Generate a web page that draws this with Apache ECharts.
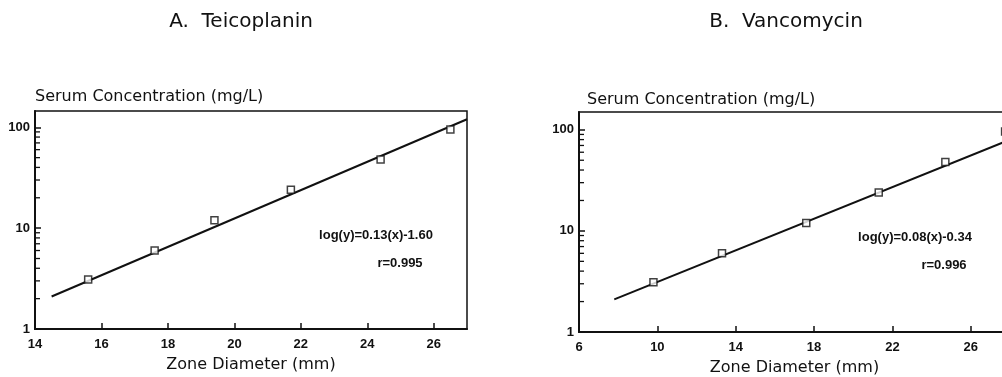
<!DOCTYPE html>
<html>
<head>
<meta charset="utf-8">
<script src="https://cdn.jsdelivr.net/npm/echarts@6/dist/echarts.min.js"></script>
<style>
  html, body { margin: 0; padding: 0; background: #fff; }
  #chart { width: 1002px; height: 377px; }
</style>
</head>
<body>
<div id="chart"></div>
<script>
// A. Teicoplanin
const teicoX = [15.6, 17.6, 19.4, 21.7, 24.4, 26.5];
const teicoY = [3.1, 6.0, 12, 24, 48, 95];
const teicoFitX = [14.5, 27.0];
const teicoFitY = [2.1, 120];

// B. Vancomycin
const vancoX = [9.8, 13.3, 17.6, 21.3, 24.7, 27.75];
const vancoY = [3.1, 6.0, 12, 24, 48, 96];
const vancoFitX = [7.8, 28.0];
const vancoFitY = [2.1, 80];

const minorTicks = [2, 3, 4, 5, 6, 7, 8, 9, 20, 30, 40, 50, 60, 70, 80, 90];

const FONT = 'Liberation Sans';
const WIDE = 'DejaVu Sans';

const chart = echarts.init(document.getElementById('chart'));

const pair = (xs, ys) => xs.map((x, i) => [x, ys[i]]);

function xAxisFor(idx, min, max, interval) {
    return {
        type: 'value', gridIndex: idx, min, max, interval,
        name: 'Zone Diameter (mm)', nameLocation: 'middle', nameGap: 28,
        nameTextStyle: { fontFamily: WIDE, fontSize: 16, color: '#111' },
        axisLine: { lineStyle: { color: '#111', width: 2 } },
        axisTick: { inside: true, length: 6, lineStyle: { color: '#111', width: 1.5 } },
        axisLabel: { showMaxLabel: false, margin: 9, fontFamily: FONT, fontWeight: 'bold', fontSize: 13, color: '#111' },
        splitLine: { show: false }
    };
}

function yAxisFor(idx, max, padLeft, gap) {
    return {
        type: 'log', gridIndex: idx, min: 1, max, logBase: 10,
        name: 'Serum Concentration (mg/L)', nameLocation: 'end', nameGap: gap,
        nameTextStyle: { fontFamily: WIDE, fontSize: 16, color: '#111', align: 'left', padding: [0, 0, 0, padLeft] },
        axisLine: { lineStyle: { color: '#111', width: 2 } },
        axisTick: { inside: true, length: 6, lineStyle: { color: '#111', width: 1.5 } },
        axisLabel: { showMaxLabel: false, margin: 5, fontFamily: FONT, fontWeight: 'bold', fontSize: 13, color: '#111' },
        splitLine: { show: false }
    };
}

// short inside ticks at 2..9 of each decade
function minorTickSeries(idx, xMin) {
    return {
        type: 'custom', xAxisIndex: idx, yAxisIndex: idx, silent: true,
        data: minorTicks.map(v => [xMin, v]),
        renderItem: (params, api) => {
            const p = api.coord([api.value(0), api.value(1)]);
            return {
                type: 'line',
                shape: { x1: p[0], y1: p[1], x2: p[0] + 5, y2: p[1] },
                style: { stroke: '#111', lineWidth: 1.3 }
            };
        }
    };
}

function pointSeries(idx, data) {
    return {
        type: 'scatter', xAxisIndex: idx, yAxisIndex: idx, data,
        symbol: 'rect', symbolSize: 7,
        itemStyle: { color: '#fff', borderColor: '#111', borderWidth: 1.5 },
        z: 5
    };
}

function fitSeries(idx, data) {
    return {
        type: 'line', xAxisIndex: idx, yAxisIndex: idx, data,
        showSymbol: false, lineStyle: { color: '#111', width: 2 }, z: 3
    };
}

function label(text, x, y, size, weight, family) {
    return {
        type: 'text', x, y,
        style: { text, fontFamily: family, fontSize: size, fontWeight: weight, fill: '#111', align: 'center', verticalAlign: 'middle' }
    };
}

const option = {
    animation: false,
    backgroundColor: '#fff',
    grid: [
        { left: 35, top: 111, width: 432, height: 218, show: true, borderColor: '#111', borderWidth: 1.5, outerBoundsMode: 'none' },
        { left: 579, top: 112, width: 431, height: 220, show: true, borderColor: '#111', borderWidth: 1.5, outerBoundsMode: 'none' }
    ],
    xAxis: [xAxisFor(0, 14, 27, 2), xAxisFor(1, 6, 28, 4)],
    yAxis: [yAxisFor(0, 145, 0, 6), yAxisFor(1, 150, 8, 4)],
    series: [
        fitSeries(0, pair(teicoFitX, teicoFitY)),
        pointSeries(0, pair(teicoX, teicoY)),
        minorTickSeries(0, 14),
        fitSeries(1, pair(vancoFitX, vancoFitY)),
        pointSeries(1, pair(vancoX, vancoY)),
        minorTickSeries(1, 6)
    ],
    graphic: [
        label('A.  Teicoplanin', 241, 22, 20, 'normal', WIDE),
        label('B.  Vancomycin', 786, 22, 20, 'normal', WIDE),
        label('log(y)=0.13(x)-1.60', 376, 235, 13, 'bold', FONT),
        label('r=0.995', 400, 263, 13, 'bold', FONT),
        label('log(y)=0.08(x)-0.34', 915, 237, 13, 'bold', FONT),
        label('r=0.996', 944, 265, 13, 'bold', FONT)
    ]
};

chart.setOption(option);
</script>
</body>
</html>
